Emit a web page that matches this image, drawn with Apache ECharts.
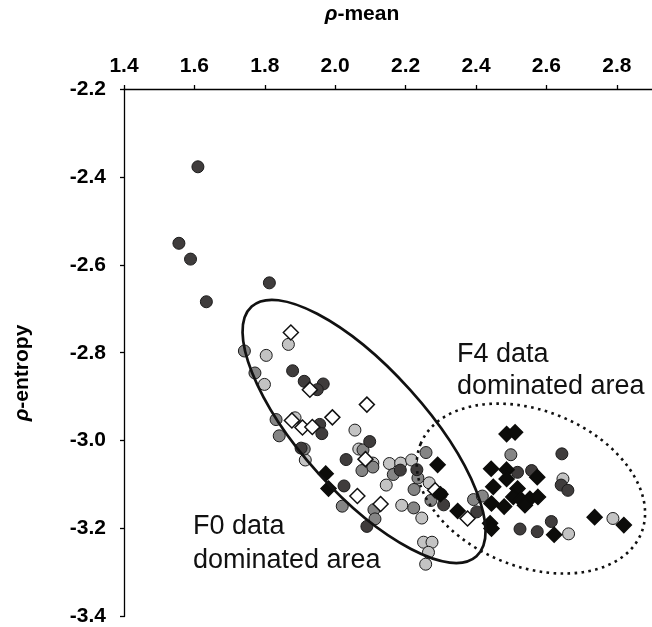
<!DOCTYPE html>
<html>
<head>
<meta charset="utf-8">
<script src="https://cdn.jsdelivr.net/npm/echarts@6/dist/echarts.min.js"></script>
<style>
html, body { margin: 0; padding: 0; background: #fff; }
#chart { width: 652px; height: 627px; }
</style>
</head>
<body>
<div id="chart"></div>
<script>
// values: [rho-mean, rho-entropy]
const darkCircles = [
  [1.610, -2.377], [1.556, -2.551], [1.589, -2.587], [1.813, -2.641], [1.634, -2.684],
  [1.879, -2.841], [1.912, -2.865], [1.966, -2.871], [1.949, -2.884], [1.956, -2.963], [1.962, -2.984],
  [2.098, -3.002], [1.903, -3.017], [2.031, -3.043], [2.185, -3.067], [2.232, -3.066], [2.025, -3.103],
  [2.090, -3.195], [2.301, -3.122], [2.308, -3.146], [2.402, -3.162], [2.518, -3.072], [2.558, -3.068],
  [2.644, -3.030], [2.642, -3.101], [2.661, -3.113], [2.525, -3.201], [2.574, -3.207], [2.614, -3.184]
];
const mediumCircles = [
  [1.742, -2.796], [1.772, -2.846], [1.832, -2.952], [1.841, -2.989], [1.912, -3.019], [2.079, -3.021],
  [2.076, -3.068], [2.107, -3.060], [2.020, -3.149], [2.110, -3.157], [2.113, -3.178], [2.165, -3.077],
  [2.224, -3.111], [2.223, -3.153], [2.272, -3.136], [2.235, -3.085], [2.393, -3.134], [2.418, -3.126],
  [2.258, -3.027], [2.499, -3.032]
];
const lightCircles = [
  [1.867, -2.781], [1.804, -2.806], [1.799, -2.872], [1.886, -2.948], [2.056, -2.976], [2.067, -3.019],
  [1.915, -3.044], [2.107, -3.051], [2.154, -3.052], [2.186, -3.051], [2.217, -3.044], [2.145, -3.101],
  [2.189, -3.147], [2.246, -3.176], [2.267, -3.096], [2.251, -3.231], [2.275, -3.231], [2.647, -3.087],
  [2.789, -3.177], [2.663, -3.212], [2.265, -3.254], [2.257, -3.281]
];
const whiteDiamonds = [
  [1.874, -2.754], [1.928, -2.884], [1.877, -2.954], [1.907, -2.970], [1.935, -2.969], [1.992, -2.947],
  [2.090, -2.918], [2.086, -3.042], [2.063, -3.126], [2.129, -3.144], [2.284, -3.113], [2.376, -3.177]
];
const blackDiamonds = [
  [1.973, -3.075], [1.981, -3.109], [2.291, -3.055], [2.299, -3.122], [2.348, -3.160], [2.440, -3.188],
  [2.444, -3.200], [2.443, -3.064], [2.487, -2.985], [2.511, -2.981], [2.487, -3.066], [2.487, -3.087],
  [2.574, -3.083], [2.449, -3.105], [2.518, -3.109], [2.506, -3.128], [2.529, -3.135], [2.553, -3.132],
  [2.576, -3.128], [2.539, -3.147], [2.480, -3.150], [2.444, -3.143], [2.737, -3.174], [2.820, -3.192],
  [2.622, -3.214]
];

const xRange = [1.4, 2.9];
const yRange = [-3.4, -2.2];
const tickStep = 0.2;

// annotation ellipses: centre in data units, radii in px, tilt in degrees (clockwise)
const f0Ellipse = { center: [2.082, -2.979], rx: 168, ry: 62, tilt: 48 };
const f4Ellipse = { center: [2.556, -3.109], rx: 119, ry: 78, tilt: 22 };

const FONT = "'Liberation Sans', Arial, sans-serif";
const chart = echarts.init(document.getElementById('chart'));

function circleSeries(data, fill) {
  return {
    type: 'scatter',
    data: data,
    symbol: 'circle',
    symbolSize: 12,
    itemStyle: { color: fill, borderColor: '#1b1b1b', borderWidth: 1, opacity: 1 },
    emphasis: { disabled: true }
  };
}
function diamondSeries(data, fill, border) {
  return {
    type: 'scatter',
    data: data,
    symbol: 'diamond',
    symbolSize: 15,
    itemStyle: { color: fill, borderColor: border, borderWidth: 1.5, opacity: 1 },
    emphasis: { disabled: true }
  };
}

const axisLine = { show: true, lineStyle: { color: '#000', width: 1.3 } };
const axisTick = { show: true, inside: false, length: 4, lineStyle: { color: '#000', width: 1.3 } };
const tickFont = { color: '#000', fontFamily: FONT, fontWeight: 'bold', fontSize: 21 };

chart.setOption({
  animation: false,
  backgroundColor: '#fff',
  grid: { left: 124, top: 89, width: 530, height: 532 },
  xAxis: {
    type: 'value',
    position: 'top',
    min: xRange[0], max: xRange[1], interval: tickStep,
    axisLine: axisLine, axisTick: axisTick,
    axisLabel: Object.assign({ margin: 12, showMaxLabel: false, formatter: v => v.toFixed(1) }, tickFont),
    splitLine: { show: false }
  },
  yAxis: {
    type: 'value',
    min: yRange[0], max: yRange[1], interval: tickStep,
    axisLine: axisLine, axisTick: axisTick,
    axisLabel: Object.assign({ margin: 18, formatter: v => v.toFixed(1) }, tickFont),
    splitLine: { show: false }
  },
  series: [
    circleSeries(lightCircles, '#c3c3c3'),
    circleSeries(mediumCircles, '#858585'),
    circleSeries(darkCircles, '#3f3c3c'),
    diamondSeries(whiteDiamonds, '#ffffff', '#111'),
    diamondSeries(blackDiamonds, '#0c0c0a', '#0c0c0a')
  ]
});

function ellipseEl(e, dashed) {
  const p = chart.convertToPixel({ gridIndex: 0 }, e.center);
  return {
    type: 'ellipse',
    x: p[0], y: p[1],
    rotation: -e.tilt * Math.PI / 180,
    shape: { cx: 0, cy: 0, rx: e.rx, ry: e.ry },
    style: dashed
      ? { fill: null, stroke: '#111', lineWidth: 2.6, lineDash: [2.6, 4.4] }
      : { fill: null, stroke: '#111', lineWidth: 2.7 },
    z: 50
  };
}

const titleRich = {
  i: { fontStyle: 'italic', fontWeight: 'bold', fontSize: 21, fontFamily: FONT, fill: '#000' },
  b: { fontWeight: 'bold', fontSize: 21, fontFamily: FONT, fill: '#000' }
};

chart.setOption({
  graphic: [
    ellipseEl(f0Ellipse, false),
    ellipseEl(f4Ellipse, true),
    {
      type: 'text', x: 362, y: 14, z: 60,
      style: { text: '{i|ρ}{b|-mean}', rich: titleRich, align: 'center', verticalAlign: 'middle' }
    },
    {
      type: 'text', x: 22, y: 373, rotation: Math.PI / 2, z: 60,
      style: { text: '{i|ρ}{b|-entropy}', rich: titleRich, align: 'center', verticalAlign: 'middle' }
    },
    {
      type: 'text', left: 193, top: 510, z: 60,
      style: { text: 'F0 data\ndominated area', font: '27px ' + FONT, lineHeight: 34, fill: '#111' }
    },
    {
      type: 'text', left: 457, top: 339, z: 60,
      style: { text: 'F4 data\ndominated area', font: '27px ' + FONT, lineHeight: 32, fill: '#111' }
    }
  ]
});
</script>
</body>
</html>
